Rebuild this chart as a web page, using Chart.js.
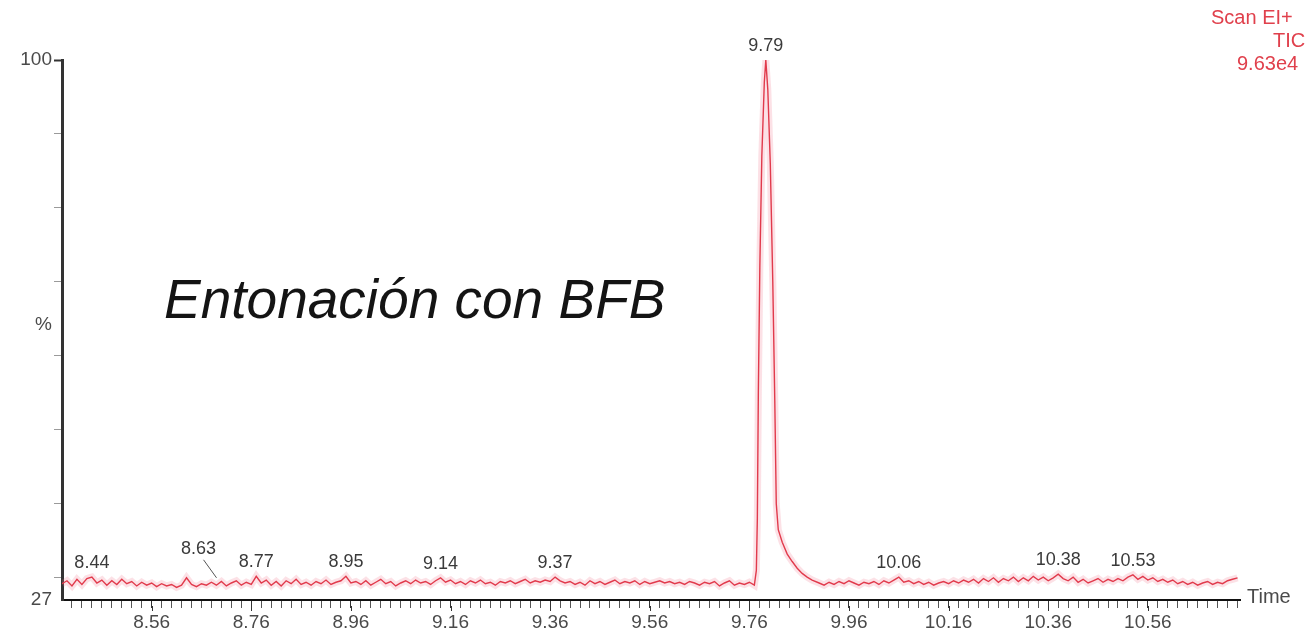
<!DOCTYPE html>
<html>
<head>
<meta charset="utf-8">
<title>Entonación con BFB</title>
<script src="https://cdn.jsdelivr.net/npm/chart.js@4/dist/chart.umd.min.js"></script>
<style>
  html, body { margin: 0; padding: 0; background: #ffffff; }
  canvas { display: block; }
</style>
</head>
<body>
<canvas id="tic" width="1313" height="632"></canvas>
<script>
// Total ion current, % of base peak, sampled every 0.01 min before the main peak
const segmentAStart = 8.38;
const segmentAValues = [
  29.2, 29.6, 28.9, 29.8, 29.1, 29.9, 30.1, 29.3, 29.7, 29.0,
  29.6, 29.1, 29.8, 29.2, 29.5, 28.9, 29.4, 29.0, 29.3, 28.8,
  29.2, 28.9, 29.1, 28.7, 29.0, 30.0, 29.1, 28.8, 29.2, 29.0,
  29.4, 29.0, 29.5, 28.9, 29.3, 29.6, 29.0, 29.4, 29.1, 30.2,
  29.3, 29.7, 29.0, 29.5, 28.9, 29.6, 29.2, 29.8, 29.1, 29.4,
  29.0, 29.5, 29.2, 29.7, 29.1, 29.4, 29.6, 30.2, 29.3, 29.5,
  29.1, 29.6, 29.0, 29.4, 29.8, 29.2, 29.5, 28.9, 29.3, 29.6,
  29.2, 29.7, 29.3, 29.5, 29.1, 29.6, 30.0, 29.4, 29.7, 29.2,
  29.5, 29.1, 29.6, 29.3, 29.7, 29.2, 29.4, 29.0, 29.5, 29.3,
  29.6, 29.2, 29.5, 29.8, 29.3, 29.6, 29.4, 29.7, 29.5, 30.1,
  29.6, 29.3, 29.5, 29.1, 29.4, 29.0, 29.6, 29.2, 29.5, 29.1,
  29.4, 29.7, 29.2, 29.5, 29.3, 29.6, 29.1, 29.5, 29.2, 29.4,
  29.6, 29.3, 29.5, 29.2, 29.4, 29.1, 29.5, 29.3, 29.0, 29.4,
  29.2, 29.5, 28.9, 29.3, 29.6, 29.0, 29.3, 29.1, 29.4
];

// Main peak (BFB), finer sampling
const peakTimes  = [9.770, 9.774, 9.776, 9.778, 9.781, 9.785, 9.790, 9.793, 9.797, 9.802, 9.807,
                    9.811, 9.814, 9.818, 9.826, 9.836, 9.846, 9.856, 9.866, 9.876, 9.886];
const peakValues = [29.0, 31.0, 38.0, 55.0, 72.0, 87.0, 97.0, 100.0, 96.0, 86.0, 70.0,
                    54.0, 40.0, 36.5, 34.8, 33.2, 32.2, 31.3, 30.6, 30.1, 29.7];

// After the peak, again every 0.01 min
const segmentBStart = 9.90;
const segmentBValues = [
  29.3, 29.0, 29.4, 29.1, 29.5, 29.2, 29.6, 29.3, 29.0, 29.4,
  29.2, 29.5, 29.1, 29.6, 29.3, 29.7, 30.1, 29.4, 29.6, 29.2,
  29.5, 29.1, 29.4, 29.0, 29.3, 29.5, 29.2, 29.6, 29.3, 29.7,
  29.4, 29.8, 29.3, 29.9, 29.5, 30.0, 29.4, 29.9, 29.6, 30.1,
  29.5, 30.0, 29.6, 30.2, 29.7, 30.1, 29.6, 30.0, 30.5, 29.9,
  29.6, 30.1, 29.4, 29.8, 29.3, 29.6, 29.9, 29.4, 29.8, 29.5,
  29.9, 29.6, 30.1, 30.4, 29.8, 30.2, 29.7, 30.0, 29.5, 29.8,
  29.4, 29.7, 29.2, 29.5, 29.1, 29.4, 29.0, 29.3, 29.5, 29.1,
  29.4, 29.2, 29.6, 29.8, 30.0
];
const sampleStep = 0.01;

// Retention times annotated over the trace
const peakLabels = [8.44, 8.63, 8.77, 8.95, 9.14, 9.37, 9.79, 10.06, 10.38, 10.53];

// Axis ticks
const timeMajorTicks = [8.56, 8.76, 8.96, 9.16, 9.36, 9.56, 9.76, 9.96, 10.16, 10.36, 10.56];
const timeMinorStep = 0.02;
const timeRange = [8.38, 10.745];
const percentTicks = [27, 30, 40, 50, 60, 70, 80, 90, 100];
const percentRange = [27, 100];
const percentLabelPos = 64.2;

const headerLines = ['Scan EI+', 'TIC', '9.63e4'];
const titleText = 'Entonación con BFB';

// ---- build the trace ----
const trace = [];
segmentAValues.forEach((v, i) => trace.push({ x: +(segmentAStart + i * sampleStep).toFixed(3), y: v }));
peakTimes.forEach((t, i) => trace.push({ x: t, y: peakValues[i] }));
segmentBValues.forEach((v, i) => trace.push({ x: +(segmentBStart + i * sampleStep).toFixed(3), y: v }));

const FONT = '"Liberation Sans", Arial, sans-serif';
const isMajor = v => timeMajorTicks.some(m => Math.abs(m - v) < 1e-6);

// retention-time annotations and header text
const annotations = {
  id: 'annotations',
  afterDatasetsDraw(chart) {
    const { ctx, scales: { x, y } } = chart;
    ctx.save();
    ctx.font = '18px ' + FONT;
    ctx.fillStyle = '#3a3a3a';
    ctx.textAlign = 'center';
    ctx.textBaseline = 'bottom';
    const offsets = { '8.63': { dx: 12, dy: -15 } };
    peakLabels.forEach(t => {
      // highest sample near the labelled time
      let best = null;
      trace.forEach(p => {
        if (Math.abs(p.x - t) <= 0.0065 && (!best || p.y > best.y)) best = p;
      });
      const px = x.getPixelForValue(best.x);
      const py = y.getPixelForValue(best.y);
      const off = offsets[String(t)] || { dx: 0, dy: 0 };
      const lx = px + off.dx, ly = py - 5 + off.dy;
      ctx.fillText(t.toFixed(2), lx, ly);
      if (off.dx || off.dy) {
        ctx.beginPath();
        ctx.strokeStyle = '#555';
        ctx.lineWidth = 1;
        ctx.moveTo(lx + 5, ly + 2);
        ctx.lineTo(px + 30, py);
        ctx.stroke();
      }
    });

    // longer marks at labelled times
    ctx.strokeStyle = '#333';
    ctx.lineWidth = 1;
    timeMajorTicks.forEach(t => {
      const tx = Math.round(x.getPixelForValue(t)) + 0.5;
      ctx.beginPath();
      ctx.moveTo(tx, x.top + 6);
      ctx.lineTo(tx, x.top + 11);
      ctx.stroke();
    });

    // axis end label
    ctx.textAlign = 'left';
    ctx.textBaseline = 'middle';
    ctx.fillStyle = '#4a4a4a';
    ctx.font = '20px ' + FONT;
    ctx.fillText('Time', x.right + 7, y.bottom - 3);

    // acquisition header (red, top right)
    ctx.fillStyle = '#e0404c';
    ctx.font = '20px ' + FONT;
    ctx.fillText(headerLines[0], 1211, 18);
    ctx.fillText(headerLines[1], 1273, 41);
    ctx.fillText(headerLines[2], 1237, 64);

    // title
    ctx.fillStyle = '#141414';
    ctx.font = 'italic 55px ' + FONT;
    ctx.textBaseline = 'alphabetic';
    ctx.fillText(titleText, 164, 318);
    ctx.restore();
  }
};

new Chart(document.getElementById('tic'), {
  type: 'line',
  data: {
    datasets: [
      { data: trace, borderColor: 'rgba(240,120,140,0.22)', borderWidth: 7, pointRadius: 0, tension: 0 },
      { data: trace, borderColor: '#dd2a3a', borderWidth: 1.4, pointRadius: 0, tension: 0 }
    ]
  },
  options: {
    responsive: false,
    animation: false,
    events: [],
    layout: { padding: { top: 60, right: 73, left: 0, bottom: 0 } },
    plugins: { legend: { display: false }, tooltip: { enabled: false } },
    scales: {
      x: {
        type: 'linear',
        min: timeRange[0],
        max: timeRange[1],
        afterBuildTicks(scale) {
          const ticks = [];
          for (let k = 0; ; k++) {
            const v = Math.round((8.40 + k * timeMinorStep) * 100) / 100;
            if (v > timeRange[1]) break;
            ticks.push({ value: v });
          }
          scale.ticks = ticks;
        },
        afterFit(scale) { scale.height = 32; },
        border: { display: true, color: '#111111', width: 2 },
        grid: {
          drawOnChartArea: false,
          drawTicks: true,
          tickLength: 8,
          tickWidth: 1,
          tickColor: ctx => isMajor(ctx.tick.value) ? '#333333' : '#555555'
        },
        ticks: {
          autoSkip: false,
          maxRotation: 0,
          padding: 3,
          color: '#4a4a4a',
          font: { family: FONT, size: 19 },
          callback: v => isMajor(v) ? v.toFixed(2) : ''
        }
      },
      y: {
        min: percentRange[0],
        max: percentRange[1],
        afterBuildTicks(scale) {
          scale.ticks = percentTicks.concat([percentLabelPos]).sort((a, b) => a - b).map(v => ({ value: v }));
        },
        afterFit(scale) { scale.width = 62; },
        border: { display: true, color: '#333333', width: 3 },
        grid: {
          drawOnChartArea: false,
          drawTicks: true,
          tickLength: 8,
          tickWidth: ctx => ctx.tick.value === 100 ? 2 : 1,
          tickColor: ctx => (ctx.tick.value === percentLabelPos || ctx.tick.value === 27) ? 'rgba(0,0,0,0)'
                            : ctx.tick.value === 100 ? '#333333' : '#9a9a9a'
        },
        ticks: {
          autoSkip: false,
          padding: 2,
          color: '#4a4a4a',
          font: { family: FONT, size: 19 },
          callback: v => v === 100 ? '100' : v === 27 ? '27' : v === percentLabelPos ? '%' : ''
        }
      }
    }
  },
  plugins: [annotations]
});
</script>
</body>
</html>
